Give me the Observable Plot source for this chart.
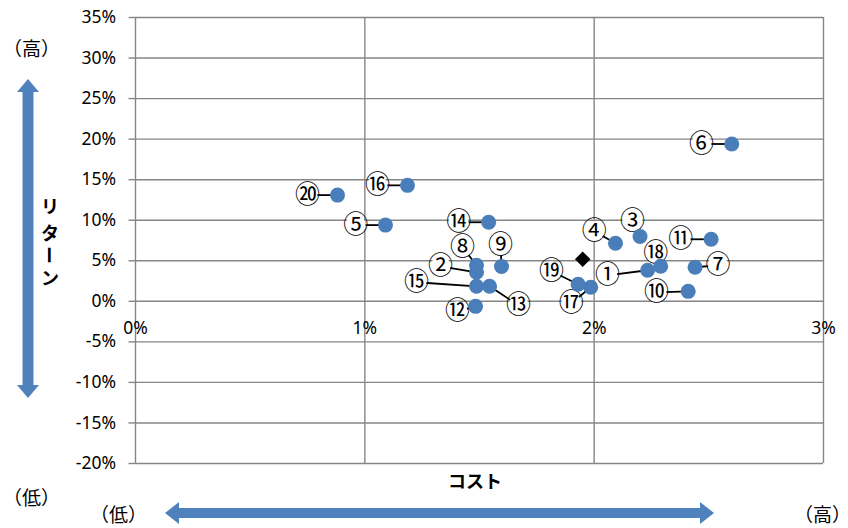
<!DOCTYPE html>
<html><head><meta charset="utf-8">
<script src="https://cdn.jsdelivr.net/npm/d3@7"></script>
<script src="https://cdn.jsdelivr.net/npm/@observablehq/plot@0.6"></script>
<style>body{margin:0;background:#fff} #chart{width:848px;height:528px}</style>
</head><body><div id="chart"></div>
<script>
// Fund data (cost %, return %)
const labels = ["①","②","③","④","⑤","⑥","⑦","⑧","⑨","⑩","⑪","⑫","⑬","⑭","⑮","⑯","⑰","⑱","⑲","⑳"];
const cost   = [2.233,1.487,2.20,2.093,1.09,2.60,2.44,1.487,1.596,2.41,2.51,1.483,1.544,1.54,1.487,1.186,1.985,2.29,1.93,0.881];
const ret    = [3.83,3.58,8.0,7.16,9.4,19.4,4.2,4.44,4.3,1.23,7.65,-0.62,1.85,9.75,1.85,14.3,1.73,4.32,2.1,13.1];
// label anchor positions (in data units)
const labelCost   = [2.058,1.33,2.167,2.0,0.96,2.468,2.54,1.426,1.592,2.272,2.377,1.404,1.67,1.409,1.225,1.055,1.90,2.268,1.814,0.75];
const labelReturn = [3.2,4.32,9.88,8.64,9.4,19.4,4.44,6.67,6.9,1.1,7.65,-1.23,-0.5,9.75,2.35,14.3,-0.25,5.93,3.7,13.1];
// average marker (diamond)
const avgCost = [1.95];
const avgReturn = [5.19];
const xTicks = [0,1,2,3];
const yTicks = [-20,-15,-10,-5,0,5,10,15,20,25,30,35];

const funds = labels.map((l,i)=>({label:l,cost:cost[i],ret:ret[i],lx:labelCost[i],ly:labelReturn[i]}));
const avg = avgCost.map((c,i)=>({cost:c,ret:avgReturn[i]}));

const jp = "'Noto Sans CJK JP', 'Noto Sans', sans-serif";
const num = "'Noto Sans', 'DejaVu Sans', sans-serif";
const grid = "#868686";

const plot = Plot.plot({
  width: 848, height: 528,
  marginLeft: 135, marginRight: 25, marginTop: 17, marginBottom: 65,
  x: {domain: [0,3], axis: null},
  y: {domain: [-20,35]},
  style: {fontFamily: num, fontSize: "17.5px", color: "#000", background: "#fff", overflow: "visible"},
  marks: [
    Plot.gridX(xTicks, {stroke: grid, strokeOpacity: 1, strokeWidth: 1.4}),
    Plot.gridY(yTicks, {stroke: grid, strokeOpacity: 1, strokeWidth: 1.4}),
    Plot.axisY(yTicks, {tickSize: 6.5, tickPadding: 13, tickFormat: d => d + "%", label: null, stroke: grid, strokeWidth: 1.4, fill: "#000", fontSize: 17.5}),
    Plot.text(xTicks, {x: d => d, y: 0, dy: 27, text: d => d + "%", fill: "#000", fontSize: 17.5}),
    Plot.link(funds, {x1: "lx", y1: "ly", x2: "cost", y2: "ret", stroke: "#000", strokeWidth: 1.8}),
    Plot.dot(funds, {x: "lx", y: "ly", r: 10, fill: "#fff"}),
    Plot.text(funds, {x: "lx", y: "ly", text: "label", fontSize: 25, fontFamily: jp, fill: "#000"}),
    Plot.dot(funds, {x: "cost", y: "ret", r: 7.5, fill: "#4a7ebb"}),
    Plot.dot(avg, {x: "cost", y: "ret", r: 7, symbol: "diamond2", fill: "#000"})
  ]
});
document.getElementById("chart").appendChild(plot);

const svg = d3.select(plot);
const blue = "#4f81bd";
// vertical double arrow
svg.append("path").attr("fill", blue)
  .attr("d", "M28,79 L39,92 L33.5,92 L33.5,385 L39,385 L28,398 L17,385 L22.5,385 L22.5,92 L17,92 Z");
// horizontal double arrow
svg.append("path").attr("fill", blue)
  .attr("d", "M165,513 L179,502 L179,508 L700,508 L700,502 L714,513 L700,524 L700,518 L179,518 L179,524 Z");

function txt(x, y, s, opts = {}) {
  svg.append("text").attr("x", x).attr("y", y).attr("text-anchor", opts.anchor || "start")
    .attr("dominant-baseline", "central")
    .attr("font-family", jp).attr("font-size", opts.size || 19)
    .attr("font-weight", opts.weight || "normal").attr("fill", "#000")
    .attr("transform", opts.rotate ? `rotate(90 ${x} ${y})` : null)
    .text(s);
}
txt(3, 47, "（高）");
txt(3, 496, "（低）");
txt(90, 513, "（低）");
txt(794, 513, "（高）");
txt(475, 480, "コスト", {anchor: "middle", weight: "bold", size: 18});
// vertical label リターン
txt(50, 205, "リ", {anchor: "middle", weight: "bold", size: 18});
txt(50, 232, "タ", {anchor: "middle", weight: "bold", size: 18});
txt(50, 255, "ー", {anchor: "middle", weight: "bold", size: 18, rotate: true});
txt(50, 277, "ン", {anchor: "middle", weight: "bold", size: 18});
</script>
</body></html>
